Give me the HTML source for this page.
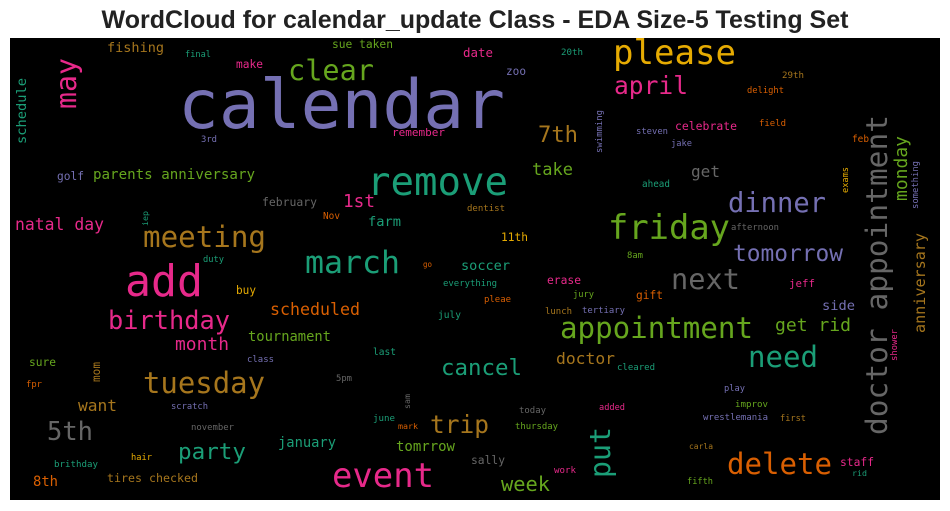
<!DOCTYPE html>
<html><head><meta charset="utf-8"><style>
html,body{margin:0;padding:0;background:#fff;width:950px;height:511px;overflow:hidden}
svg{display:block}
</style></head><body>
<svg id="wc" width="950" height="511">
<text x="475" y="28" text-anchor="middle" font-family="Liberation Sans, Arial, sans-serif" font-weight="bold" font-size="25" fill="#222">WordCloud for calendar_update Class - EDA Size-5 Testing Set</text>
<rect x="10" y="38" width="930" height="462" fill="#000"/>
<g id="words"></g>
</svg>
<script>
const C={t:"#1b9e77",o:"#d95f02",p:"#7570b3",k:"#e7298a",g:"#66a61e",y:"#e6ab02",b:"#a6761d",d:"#666666"};
// [word, x, baseline, length, rotated(0/1), colorKey]
const words=[
["calendar",178,128,327,0,"p"],["please",613,64,123,0,"y"],["april",614,94,74,0,"k"],
["remove",367,195,141,0,"t"],["friday",608,239,122,0,"g"],["add",125,296,78,0,"k"],
["march",305,273,95,0,"t"],["meeting",143,247,123,0,"b"],["clear",288,80,86,0,"g"],
["dinner",728,212,98,0,"p"],["next",671,289,69,0,"d"],["tomorrow",733,261,110,0,"p"],
["appointment",560,338,193,0,"g"],["need",748,367,70,0,"t"],["tuesday",143,393,122,0,"b"],
["birthday",108,329,122,0,"k"],["event",332,487,102,0,"k"],["delete",727,474,105,0,"o"],
["trip",430,433,59,0,"b"],["cancel",441,375,81,0,"t"],["5th",47,440,46,0,"d"],
["party",178,459,68,0,"t"],["7th",538,142,40,0,"b"],["take",532,175,41,0,"g"],
["get",691,177,29,0,"d"],["1st",343,207,32,0,"k"],["natal day",15,230,89,0,"k"],
["scheduled",270,315,90,0,"o"],["month",175,350,54,0,"k"],["tournament",248,341,83,0,"g"],
["want",78,411,39,0,"b"],["doctor",556,364,59,0,"b"],["get rid",775,331,76,0,"g"],
["side",822,310,33,0,"p"],["jeff",789,287,26,0,"k"],["gift",636,299,27,0,"o"],
["erase",547,284,34,0,"k"],["jury",573,297,21,0,"g"],["pleae",484,302,27,0,"o"],
["lunch",545,314,27,0,"b"],["tertiary",582,313,43,0,"p"],["cleared",617,370,38,0,"t"],
["play",724,391,21,0,"p"],["improv",735,407,33,0,"g"],["wrestlemania",703,420,65,0,"p"],
["first",780,421,26,0,"b"],["today",519,413,27,0,"d"],["added",599,410,26,0,"k"],
["thursday",515,429,43,0,"g"],["carla",689,449,24,0,"b"],["staff",840,466,34,0,"k"],
["rid",852,476,15,0,"t"],["fifth",687,484,26,0,"g"],["sally",471,464,34,0,"d"],
["work",554,473,22,0,"k"],["week",501,491,49,0,"g"],
["fishing",107,52,57,0,"b"],["final",185,57,26,0,"t"],["sue taken",332,48,61,0,"g"],
["date",463,57,30,0,"k"],["make",236,68,27,0,"k"],["remember",392,136,53,0,"k"],
["3rd",201,142,16,0,"p"],["golf",57,180,27,0,"p"],["parents anniversary",93,179,162,0,"g"],
["february",262,206,55,0,"d"],["Nov",323,219,17,0,"o"],["farm",368,226,33,0,"t"],
["duty",203,262,21,0,"t"],["go",423,267,9,0,"o"],["soccer",461,270,49,0,"t"],
["dentist",467,211,38,0,"b"],["11th",501,241,27,0,"y"],["8am",627,258,16,0,"g"],
["afternoon",731,230,48,0,"d"],["ahead",642,187,28,0,"t"],["steven",636,134,32,0,"p"],
["jake",671,146,21,0,"p"],["celebrate",675,130,62,0,"k"],["field",759,126,27,0,"o"],
["feb",852,142,17,0,"o"],["delight",747,93,37,0,"o"],["29th",782,78,22,0,"b"],
["zoo",506,75,20,0,"p"],["20th",561,55,22,0,"t"],["everything",443,286,54,0,"t"],
["july",438,318,23,0,"t"],["last",373,355,23,0,"t"],["class",247,362,27,0,"p"],
["5pm",336,381,16,0,"d"],["scratch",171,409,37,0,"p"],["november",191,430,43,0,"d"],
["june",373,421,22,0,"t"],["mark",398,429,20,0,"o"],["january",278,447,58,0,"t"],
["tomrrow",396,451,59,0,"g"],["hair",131,460,21,0,"y"],["brithday",54,467,44,0,"t"],
["8th",33,486,25,0,"o"],["tires checked",107,482,91,0,"b"],["sure",29,366,27,0,"g"],
["fpr",26,387,16,0,"o"],["buy",236,294,20,0,"y"],
["put",610,478,51,1,"t"],["doctor appointment",887,435,320,1,"d"],["anniversary",925,333,100,1,"b"],
["monday",907,201,65,1,"g"],["something",918,209,48,1,"p"],["exams",848,193,26,1,"y"],
["swimming",602,153,43,1,"p"],["may",76,109,51,1,"k"],["schedule",26,144,66,1,"t"],
["iep",148,226,15,1,"t"],["mom",100,382,20,1,"b"],["sam",410,409,15,1,"d"],["shower",897,361,32,1,"k"]
];
const g=document.getElementById('words');
const NS="http://www.w3.org/2000/svg";
for(const w of words){
  const [txt,x,y,len,rot,ck]=w;
  const fs=len/(0.602*txt.length);
  const t=document.createElementNS(NS,'text');
  
  
  t.textContent=txt;
  t.setAttribute('font-family','DejaVu Sans Mono, Liberation Mono, monospace');
  t.setAttribute('font-size',fs.toFixed(2));
  t.setAttribute('fill',C[ck]);
  t.setAttribute('textLength',len);
  t.setAttribute('lengthAdjust','spacingAndGlyphs');
  t.setAttribute('x',0);t.setAttribute('y',0);
  t.setAttribute('transform','translate('+x+','+y+')'+(rot?' rotate(-90)':''));
  g.appendChild(t);
}
</script>
</body></html>
